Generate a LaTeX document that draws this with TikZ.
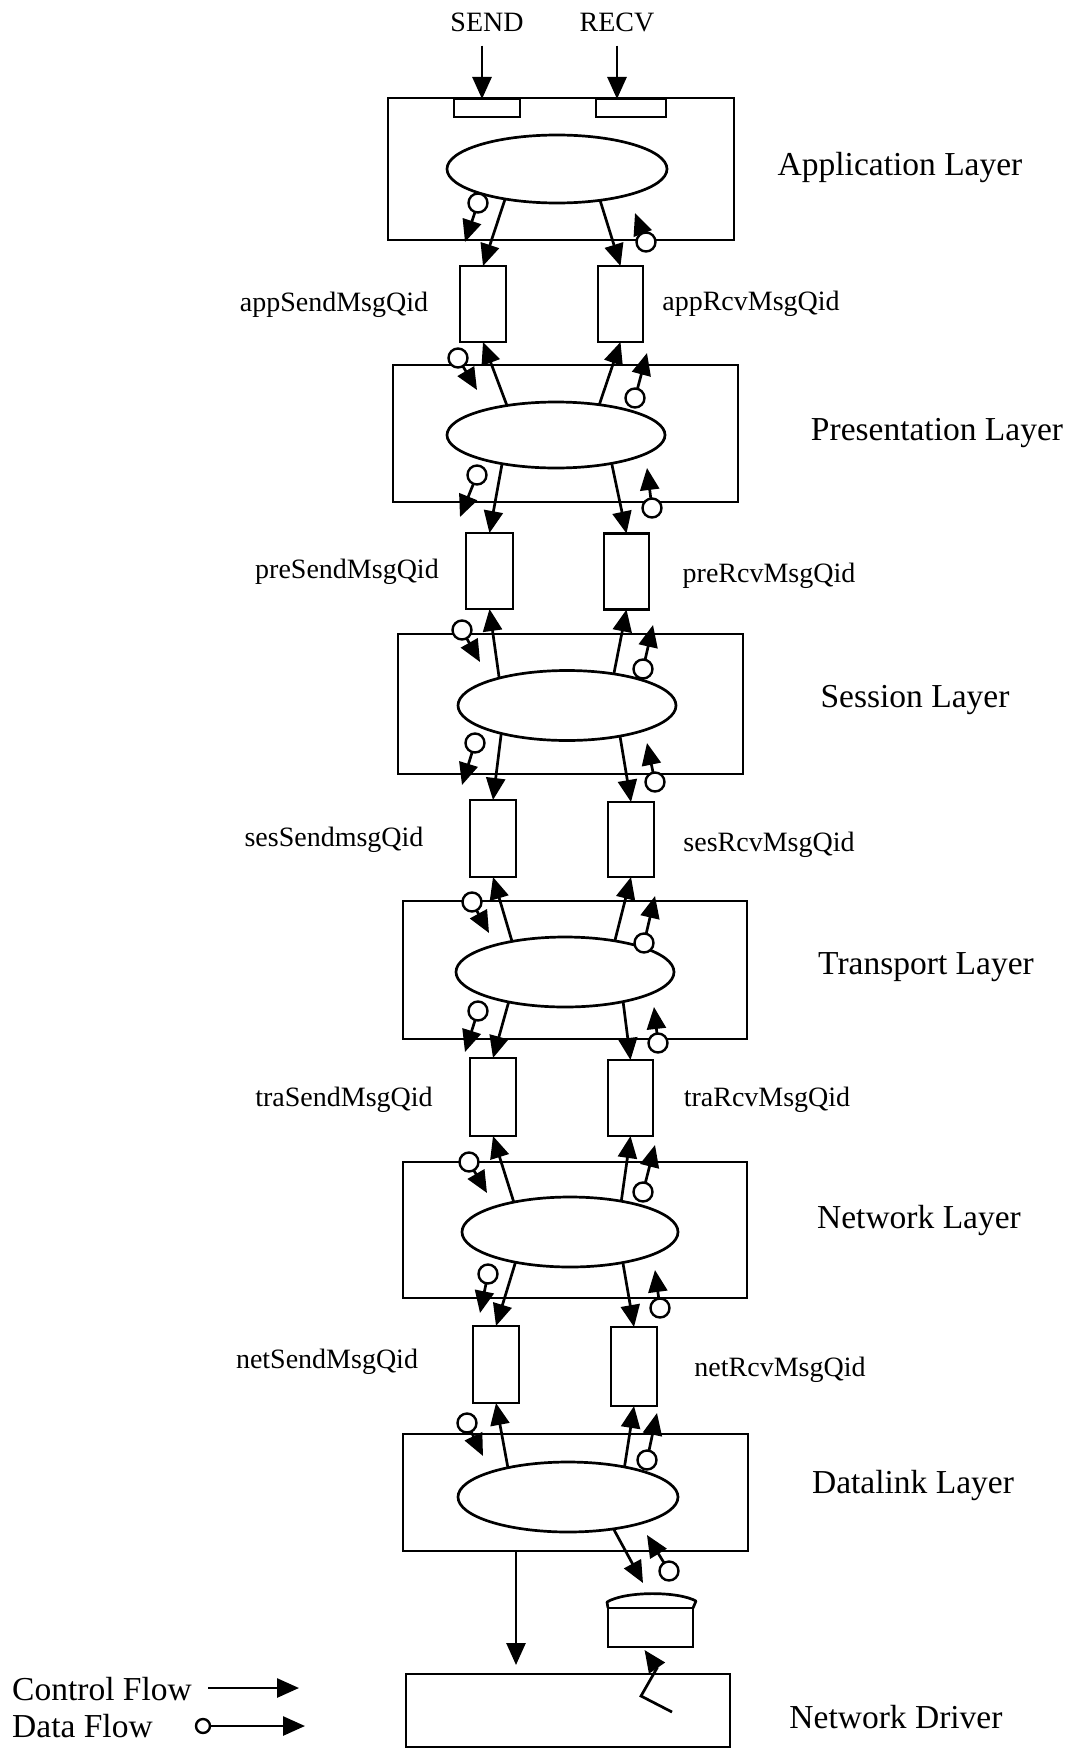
\documentclass[tikz,border=0pt]{standalone}
\usepackage{fontspec}
\setmainfont{Liberation Serif}
\usetikzlibrary{arrows.meta,shapes.geometric,calc}
\newcommand{\dflow}[3]{\node[dcirc] (#1) at #2 {}; \coordinate (#1t) at #3; \draw[ctrl] (#1) -- (#1t);}
\begin{document}
\begin{tikzpicture}[x=1pt,y=-1pt,
  lbox/.style={draw, rectangle, outer sep=0pt, inner sep=0pt, line width=2.7pt},
  proc/.style={draw, ellipse, fill=white, outer sep=0pt, inner sep=0pt, line width=2.7pt},
  queue/.style={draw, rectangle, fill=white, minimum width=46pt, minimum height=76pt, outer sep=0pt, inner sep=0pt, line width=2.7pt},
  dcirc/.style={draw, circle, fill=white, minimum size=19pt, inner sep=0pt, outer sep=0pt, line width=2.4pt},
  ctrl/.style={-{Triangle[length=22pt,width=19pt]}, line width=2.7pt},
  big/.style={font=\fontsize{33.5pt}{38pt}\selectfont, inner sep=0pt},
  small/.style={font=\fontsize{28pt}{32pt}\selectfont, inner sep=0pt}]
\useasboundingbox (0,0) rectangle (1073,1750);

% ---------- layer boxes ----------
\node[lbox, minimum width=346pt, minimum height=142pt] (APP) at (561,169) {};
\node[lbox, minimum width=345pt, minimum height=137pt] (PRE) at (565.5,433.5) {};
\node[lbox, minimum width=345pt, minimum height=140pt] (SES) at (570.5,704) {};
\node[lbox, minimum width=344pt, minimum height=138pt] (TRA) at (575,970) {};
\node[lbox, minimum width=344pt, minimum height=136pt] (NET) at (575,1230) {};
\node[lbox, minimum width=345pt, minimum height=117pt] (DL) at (575.5,1492.5) {};
\node[lbox, minimum width=324pt, minimum height=73pt] (DRV) at (568,1710.5) {};

% ---------- processes ----------
\node[proc, minimum width=220pt, minimum height=68pt] (APPe) at (557,169) {};
\node[proc, minimum width=218pt, minimum height=66pt] (PREe) at (556,435) {};
\node[proc, minimum width=218pt, minimum height=70pt] (SESe) at (567,705.5) {};
\node[proc, minimum width=218pt, minimum height=70pt] (TRAe) at (565,972) {};
\node[proc, minimum width=216pt, minimum height=70pt] (NETe) at (570,1232) {};
\node[proc, minimum width=220pt, minimum height=70pt] (DLe) at (568,1497) {};

% ---------- queues ----------
\node[queue] (appS) at (483,304) {};
\node[queue, minimum width=45pt] (appR) at (620.5,304) {};
\node[queue, minimum width=47pt] (preS) at (489.5,571) {};
\node[queue, minimum width=45pt] (preR) at (626.5,571.5) {};
\node[queue, minimum height=77pt] (sesS) at (493,838.5) {};
\node[queue, minimum height=75pt] (sesR) at (631,839.5) {};
\node[queue, minimum height=78pt] (traS) at (493,1097) {};
\node[queue, minimum width=45pt] (traR) at (630.5,1098) {};
\node[queue, minimum height=77pt] (netS) at (496,1364.5) {};
\node[queue, minimum height=79pt] (netR) at (634,1366.5) {};

% ---------- input slots and SEND / RECV ----------
\node[lbox, minimum width=66pt, minimum height=18pt] (sslot) at (487,108) {};
\node[lbox, minimum width=70pt, minimum height=18pt] (rslot) at (631,108) {};
\node[small] (SEND) at (487,22) {SEND};
\node[small] (RECV) at (617,22) {RECV};
\draw[ctrl] ([xshift=-5pt,yshift=-14pt]SEND.south) -- ([xshift=-5pt]SEND.south |- sslot.north);
\draw[ctrl] ([yshift=-14pt]RECV.south) -- (RECV.south |- rslot.north);

% ---------- control flows between processes and queues ----------
\draw[ctrl] (APPe.210) -- (appS.north);
\draw[ctrl] (APPe.324) -- (appR.north);
\draw[ctrl] (PREe.149) -- (appS.south);
\draw[ctrl] (PREe.35) -- (appR.south);
\draw[ctrl] (PREe.208) -- (preS.north);
\draw[ctrl] (PREe.333) -- (preR.north);
\draw[ctrl] (SESe.158) -- (preS.south);
\draw[ctrl] (SESe.34) -- (preR.south);
\draw[ctrl] (SESe.203) -- (sesS.north);
\draw[ctrl] (SESe.330) -- (sesR.north);
\draw[ctrl] (TRAe.150) -- (sesS.south);
\draw[ctrl] (TRAe.32) -- (sesR.south);
\draw[ctrl] (TRAe.208) -- (traS.north);
\draw[ctrl] (TRAe.333) -- (traR.north);
\draw[ctrl] (NETe.152) -- (traS.south);
\draw[ctrl] (NETe.31) -- (traR.south);
\draw[ctrl] (NETe.209) -- (netS.north);
\draw[ctrl] (NETe.330) -- (netR.north);
\draw[ctrl] (DLe.154) -- (netS.south);
\draw[ctrl] (DLe.28) -- (netR.south);

% ---------- data flows ----------
\dflow{aBL}{($(APP.south west)+(90,-37)$)}{($(APP.south west)+(77,2)$)}
\dflow{aBR}{($(APP.south west)+(258,2)$)}{($(APP.south west)+(247,-27)$)}

\dflow{pTL}{($(PRE.north west)+(65,-7)$)}{($(PRE.north west)+(84,25)$)}
\dflow{pTR}{($(PRE.north west)+(242,33)$)}{($(PRE.north west)+(254,-12)$)}
\dflow{pBL}{($(PRE.south west)+(84,-27)$)}{($(PRE.south west)+(67,15)$)}
\dflow{pBR}{($(PRE.south west)+(259,6)$)}{($(PRE.south west)+(254,-34)$)}

\dflow{sTL}{($(SES.north west)+(64,-4)$)}{($(SES.north west)+(82,28)$)}
\dflow{sTR}{($(SES.north west)+(245,35)$)}{($(SES.north west)+(255,-9)$)}
\dflow{sBL}{($(SES.south west)+(77,-31)$)}{($(SES.south west)+(64,11)$)}
\dflow{sBR}{($(SES.south west)+(257,8)$)}{($(SES.south west)+(249,-31)$)}

\dflow{tTL}{($(TRA.north west)+(69,1)$)}{($(TRA.north west)+(86,32)$)}
\dflow{tTR}{($(TRA.north west)+(241,42)$)}{($(TRA.north west)+(252,-5)$)}
\dflow{tBL}{($(TRA.south west)+(75,-28)$)}{($(TRA.south west)+(62,13)$)}
\dflow{tBR}{($(TRA.south west)+(255,4)$)}{($(TRA.south west)+(251,-32)$)}

\dflow{nTL}{($(NET.north west)+(66,0)$)}{($(NET.north west)+(84,31)$)}
\dflow{nTR}{($(NET.north west)+(240,30)$)}{($(NET.north west)+(252,-17)$)}
\dflow{nBL}{($(NET.south west)+(85,-24)$)}{($(NET.south west)+(77,15)$)}
\dflow{nBR}{($(NET.south west)+(257,10)$)}{($(NET.south west)+(252,-28)$)}

\dflow{dTL}{($(DL.north west)+(64,-11)$)}{($(DL.north west)+(80,22)$)}
\dflow{dTR}{($(DL.north west)+(244,26)$)}{($(DL.north west)+(254,-21)$)}

% ---------- datalink to driver ----------
\coordinate (dlout) at ($(DL.south west)+(113,0)$);
\draw[ctrl, shorten >=9pt] (dlout) -- (dlout |- DRV.north);

\node[lbox, minimum width=85pt, minimum height=39pt] (buf) at (650.5,1627.5) {};
\draw[line width=2.7pt, line join=round] (buf.north west) -- ++(-1,-6) .. controls ++(18,-11) and ++(-18,-10) .. ++(89,-1) -- (buf.north east);
\coordinate (bufin) at (643,1583);
\draw[ctrl] (DLe.325) -- (bufin);
\dflow{bD}{(669,1571)}{(647,1535)}

\coordinate (zz) at (672,1712);
\draw[ctrl] (zz) -- (641,1696) -- (657,1668) -- ($(buf.south west)!0.43!(buf.south east)+(0,3)$);

% ---------- layer labels ----------
\node[big] (lAPP) at (900,167) {Application Layer};
\node[big] (lPRE) at (937,433) {Presentation Layer};
\node[big] (lSES) at (915,700) {Session Layer};
\node[big] (lTRA) at (926,967) {Transport Layer};
\node[big] (lNET) at (919,1220) {Network Layer};
\node[big] (lDL) at (913,1485) {Datalink Layer};
\node[big] (lDRV) at (896,1717) {Network Driver};

% ---------- queue labels ----------
\node[small] (qa1) at (334,305) {appSendMsgQid};
\node[small] (qa2) at (751,304) {appRcvMsgQid};
\node[small] (qp1) at (347,572) {preSendMsgQid};
\node[small] (qp2) at (769,576) {preRcvMsgQid};
\node[small] (qs1) at (334,840) {sesSendmsgQid};
\node[small] (qs2) at (769,845) {sesRcvMsgQid};
\node[small] (qt1) at (344,1100) {traSendMsgQid};
\node[small] (qt2) at (767,1100) {traRcvMsgQid};
\node[small] (qn1) at (327,1362) {netSendMsgQid};
\node[small] (qn2) at (780,1370) {netRcvMsgQid};

% ---------- legend ----------
\node[big, anchor=west] (lc) at (12,1689) {Control Flow};
\node[big, anchor=west] (ld) at (12,1726) {Data Flow};
\coordinate (lc1) at (208,1688);
\coordinate (lc2) at (299,1688);
\draw[ctrl] (lc1) -- (lc2);
\node[dcirc, minimum size=14pt] (ldc) at (203,1726) {};
\coordinate (ld2) at (305,1726);
\draw[ctrl] (ldc) -- (ld2);
\end{tikzpicture}
\end{document}
